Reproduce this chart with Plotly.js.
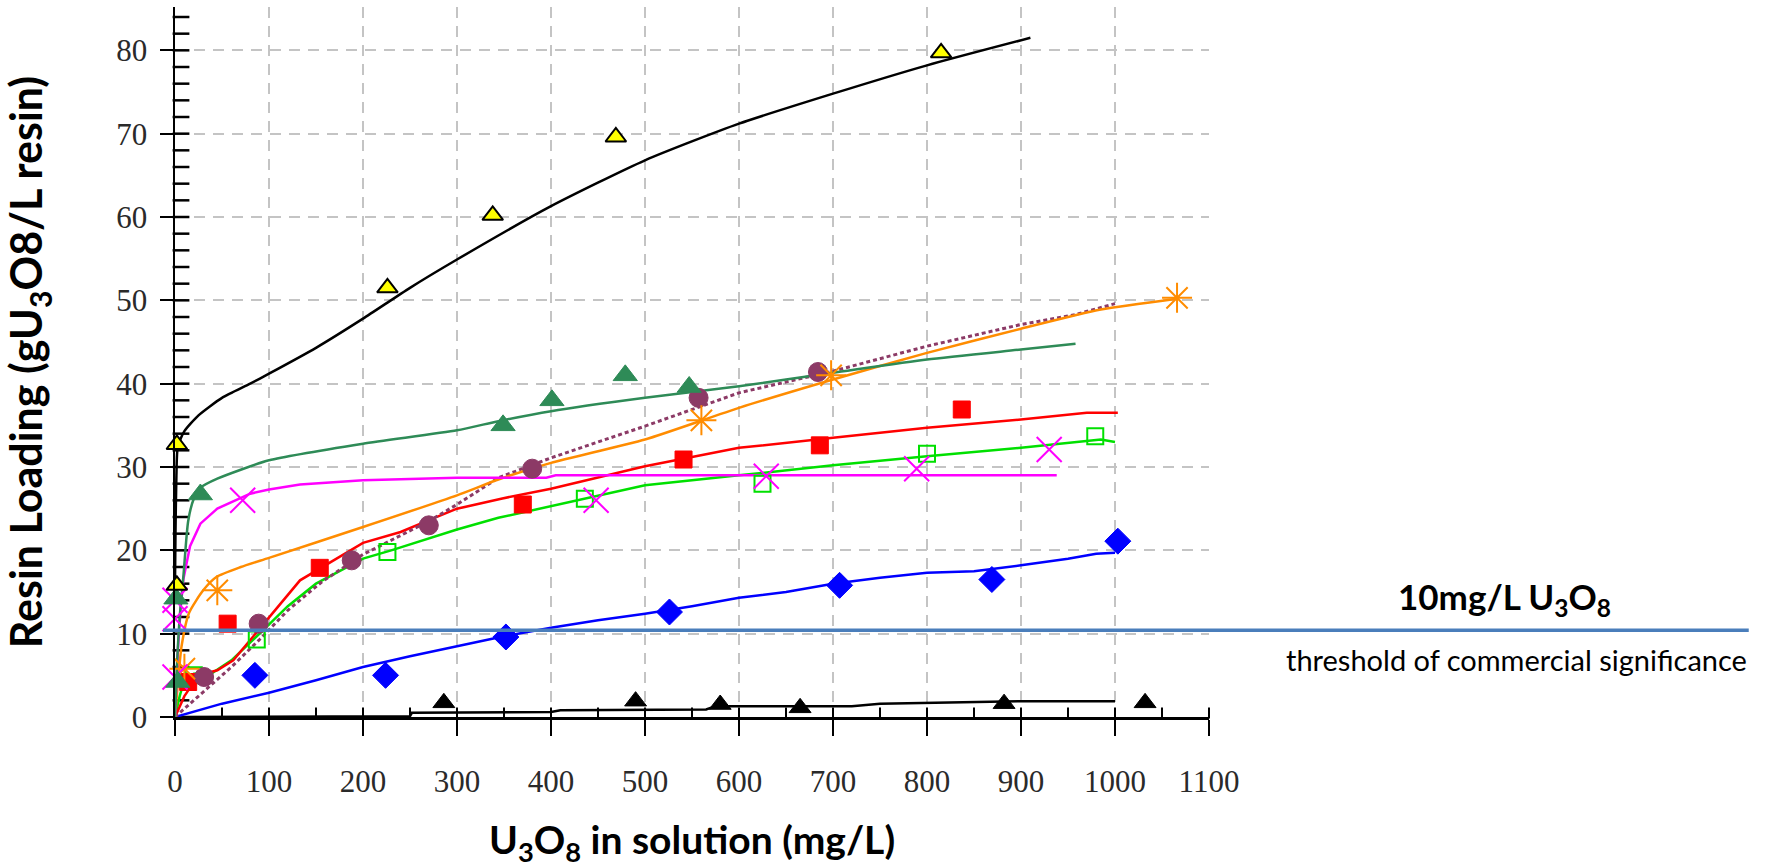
<!DOCTYPE html>
<html>
<head>
<meta charset="utf-8">
<script src="https://cdn.plot.ly/plotly-3.0.1.min.js"></script>
<style>html,body{margin:0;padding:0;background:#fff;}#chart{width:1776px;height:868px;}</style>
</head>
<body>
<div id="chart"></div>
<script>
// ---- data ----
// measured points (markers)
const yellowX = [2, 2, 226, 338, 469, 815];
const yellowY = [15.8, 32.7, 51.5, 60.2, 69.6, 79.7];
const greenTriX = [1, 3, 27, 349, 401, 479, 547];
const greenTriY = [14.2, 4.2, 26.7, 35.0, 38.0, 41.0, 39.6];
const magentaX = [0, 0, 0, 72, 448, 629, 789, 930];
const magentaY = [4.8, 11.8, 14.0, 26.0, 26.0, 28.9, 29.8, 32.1];
const orangeX = [10, 45, 560, 698, 1066];
const orangeY = [5.8, 15.2, 35.6, 41.0, 50.3];
const purpleX = [31, 89, 188, 270, 380, 557, 684];
const purpleY = [4.8, 11.2, 18.8, 23.0, 29.8, 38.3, 41.4];
const redX = [14, 56, 154, 370, 541, 686, 837];
const redY = [4.2, 11.2, 17.9, 25.5, 30.9, 32.6, 36.9];
const limeX = [20, 87, 226, 436, 625, 800, 979];
const limeY = [5.0, 9.3, 19.8, 26.2, 28.0, 31.6, 33.7];
const blueX = [85, 224, 352, 526, 707, 869, 1003];
const blueY = [5.0, 5.0, 9.6, 12.6, 15.8, 16.5, 21.1];
const blackTriX = [286, 490, 580, 665, 882, 1032];
const blackTriY = [1.7, 1.9, 1.5, 1.1, 1.6, 1.7];

// fitted curves
const blackFitX = [0, 0.5, 1.5, 3, 10, 25, 50, 80, 100, 150, 200, 250, 300, 400, 500, 600, 700, 800, 910];
const blackFitY = [16, 22, 29, 32.5, 34.3, 36.2, 38.3, 40.0, 41.2, 44.3, 47.8, 51.5, 54.9, 61.3, 66.8, 71.2, 74.8, 78.2, 81.5];
const greenFitX = [0, 2, 5, 9, 14, 20, 27, 45, 100, 200, 300, 344, 400, 500, 600, 700, 800, 900, 958];
const greenFitY = [0, 6, 12, 17, 23.5, 26.2, 27.5, 28.6, 30.8, 32.8, 34.4, 35.5, 36.7, 38.3, 39.7, 41.3, 42.9, 44.1, 44.8];
const magentaFitX = [0, 3, 6, 9, 16, 27, 45, 80, 100, 133, 200, 300, 395, 405, 600, 800, 938];
const magentaFitY = [0, 8, 13, 16.6, 20.5, 23.2, 25, 26.8, 27.3, 27.9, 28.4, 28.7, 28.7, 29.0, 29.0, 29.0, 29.0];
const orangeFitX = [0, 3, 7, 15, 30, 44, 70, 100, 200, 300, 344, 400, 500, 600, 700, 800, 900, 985, 1066];
const orangeFitY = [0, 4, 8.5, 12.5, 15.2, 16.8, 18.0, 19.1, 22.8, 26.6, 28.5, 30.5, 33.3, 37.1, 40.5, 43.7, 46.6, 48.9, 50.2];
const purpleFitX = [0, 15, 30, 60, 90, 120, 156, 200, 270, 300, 344, 400, 500, 600, 700, 800, 900, 958, 1000];
const purpleFitY = [0, 1.5, 3, 6, 9.3, 12.8, 16.2, 19.5, 23.5, 25.5, 28.7, 31.1, 34.9, 38.9, 41.5, 44.5, 47.1, 48.3, 49.6];
const redFitX = [0, 10, 25, 45, 62, 80, 100, 133, 200, 240, 276, 300, 347, 400, 500, 600, 700, 800, 900, 970, 1003];
const redFitY = [0, 2.5, 5, 5.6, 6.8, 9.2, 12.0, 16.4, 20.9, 22.2, 23.9, 25.0, 26.2, 27.4, 30.1, 32.3, 33.5, 34.7, 35.7, 36.5, 36.5];
const limeFitX = [0, 5, 10, 20, 40, 60, 90, 120, 150, 200, 230, 300, 344, 400, 500, 600, 700, 800, 900, 985, 1000];
const limeFitY = [0, 2.5, 4.5, 5.2, 5.3, 6.8, 10.0, 13.3, 16.0, 19.0, 20.0, 22.5, 23.9, 25.3, 27.8, 29.0, 30.2, 31.3, 32.3, 33.3, 33.0];
const blueFitX = [0, 50, 100, 150, 200, 250, 300, 350, 400, 450, 500, 550, 600, 650, 700, 750, 800, 850, 900, 950, 980, 1000];
const blueFitY = [0, 1.6, 2.9, 4.4, 6.0, 7.3, 8.5, 9.7, 10.7, 11.6, 12.4, 13.3, 14.3, 15.0, 16.0, 16.7, 17.3, 17.5, 18.2, 19.0, 19.6, 19.7];
const blackLowFitX = [0, 250, 252, 400, 410, 565, 575, 720, 750, 800, 900, 1000];
const blackLowFitY = [0, 0.1, 0.5, 0.6, 0.8, 0.9, 1.3, 1.3, 1.6, 1.7, 1.9, 1.9];

const thresholdY = 10.4;
const xRange = [0, 1100];
const yRange = [0, 85.2];
// small inner tick positions (every 50 on x, every 2 on y)
const xMinorTicks = [50, 100, 150, 200, 250, 300, 350, 400, 450, 500, 550, 600, 650, 700, 750, 800, 850, 900, 950, 1000, 1050, 1100];
const yMinorTicks = [2, 4, 6, 8, 10, 12, 14, 16, 18, 20, 22, 24, 26, 28, 30, 32, 34, 36, 38, 40, 42, 44, 46, 48, 50, 52, 54, 56, 58, 60, 62, 64, 66, 68, 70, 72, 74, 76, 78, 80, 82, 84];

// ---- geometry ----
const W = 1776, H = 868;
const M = {l: 175, r: 567, t: 7, b: 151};
const plotW = W - M.l - M.r, plotH = H - M.t - M.b;
const yTickLen = 12, xTickLen = 8;
// offset (in axis units) that puts each inner tick's centre half a tick length inside the axis
const yTickX = (yTickLen / 2) * (xRange[1] - xRange[0]) / plotW;
const xTickY = (xTickLen / 2) * (yRange[1] - yRange[0]) / plotH;

// ---- traces ----
function fit(x, y, color, width, dash, shape) {
  return {x: x, y: y, type: 'scatter', mode: 'lines', cliponaxis: false, hoverinfo: 'skip',
          line: {color: color, width: width, dash: dash || 'solid', shape: shape || 'linear', smoothing: 0.6}};
}
function pts(x, y, symbol, size, color, lineColor, lineWidth) {
  return {x: x, y: y, type: 'scatter', mode: 'markers', cliponaxis: false,
          marker: {symbol: symbol, size: size, color: color,
                   line: {color: lineColor, width: lineWidth}}};
}
const C = {black: '#000000', green: '#2e8b57', magenta: '#ff00ff', orange: '#ff8c00',
           purple: '#8c3a66', red: '#ff0000', lime: '#00e000', blue: '#0000ff', yellow: '#ffff00'};

const data = [
  // inner axis ticks
  {x: yMinorTicks.map(() => yTickX), y: yMinorTicks, type: 'scatter', mode: 'markers', cliponaxis: false, hoverinfo: 'skip',
   marker: {symbol: 'line-ew-open', size: yTickLen, color: '#000', line: {color: '#000', width: 2.5}}},
  {x: xMinorTicks, y: xMinorTicks.map(() => xTickY), type: 'scatter', mode: 'markers', cliponaxis: false, hoverinfo: 'skip',
   marker: {symbol: 'line-ns-open', size: xTickLen, color: '#000', line: {color: '#000', width: 2}}},
  fit(blackLowFitX, blackLowFitY, C.black, 2.5),
  fit(blueFitX, blueFitY, C.blue, 2.5),
  fit(limeFitX, limeFitY, C.lime, 2.5),
  fit(redFitX, redFitY, C.red, 2.5),
  fit(purpleFitX, purpleFitY, C.purple, 3, '4px,3px'),
  fit(orangeFitX, orangeFitY, C.orange, 2.5, null, 'spline'),
  fit(magentaFitX, magentaFitY, C.magenta, 2.5),
  fit(greenFitX, greenFitY, C.green, 2.5, null, 'spline'),
  fit(blackFitX, blackFitY, C.black, 2.5, null, 'spline'),
  pts(blackTriX, blackTriY, 'triangle-up', 19, C.black, C.black, 1),
  pts(blueX, blueY, 'diamond', 20, C.blue, C.blue, 1),
  pts(limeX, limeY, 'square-open', 16, C.lime, C.lime, 2),
  pts(redX, redY, 'square', 17, C.red, C.red, 1),
  pts(purpleX, purpleY, 'circle', 19, C.purple, C.purple, 1),
  pts(orangeX, orangeY, 'asterisk-open', 25, C.orange, C.orange, 2),
  pts(magentaX, magentaY, 'x-thin-open', 25, C.magenta, C.magenta, 2),
  pts(greenTriX, greenTriY, 'triangle-up', 21, C.green, C.green, 1),
  pts(yellowX, yellowY, 'triangle-up', 18, C.yellow, C.black, 2)
];

const tickFont = {family: 'Liberation Serif, Times New Roman, serif', size: 31, color: '#2a2a2a'};

const layout = {
  width: W, height: H,
  paper_bgcolor: '#ffffff', plot_bgcolor: '#ffffff',
  showlegend: false,
  margin: M,
  xaxis: {
    range: xRange, tickmode: 'linear', tick0: 0, dtick: 100,
    showline: true, linecolor: '#000', linewidth: 2.5, zeroline: false,
    ticks: 'outside', ticklen: 16, tickwidth: 2, tickcolor: '#000',
    ticklabelstandoff: 19,
    showgrid: true, gridcolor: '#c4c4c4', gridwidth: 2, griddash: '11px,8px',
    tickfont: tickFont,
    title: {text: '<b>U<sub>3</sub>O<sub>8</sub> in solution (mg/L)</b>',
            font: {family: 'Lato, Open Sans, sans-serif', size: 39, color: '#000'}, standoff: 50}
  },
  yaxis: {
    range: yRange, tickmode: 'linear', tick0: 0, dtick: 10,
    showline: true, linecolor: '#000', linewidth: 2.5, zeroline: false,
    ticks: 'outside', ticklen: 13, tickwidth: 2, tickcolor: '#000',
    ticklabelstandoff: 6,
    showgrid: true, gridcolor: '#c4c4c4', gridwidth: 2, griddash: '11px,8px',
    tickfont: tickFont,
    title: {text: '<b>Resin Loading (gU<sub>3</sub>O8/L resin)</b>',
            font: {family: 'Lato, Open Sans, sans-serif', size: 43, color: '#000'}, standoff: 60}
  },
  shapes: [{
    type: 'line', xref: 'paper', yref: 'y', x0: -0.0116, x1: 1.522, y0: thresholdY, y1: thresholdY,
    line: {color: '#4a7ebb', width: 3.5}
  }],
  annotations: [
    {xref: 'paper', yref: 'y', x: 1.286, y: thresholdY, yanchor: 'bottom', yshift: 6, xanchor: 'center',
     showarrow: false, text: '<b>10mg/L U<sub>3</sub>O<sub>8</sub></b>',
     font: {family: 'Lato, Open Sans, sans-serif', size: 35, color: '#000'}},
    {xref: 'paper', yref: 'y', x: 1.522, y: thresholdY, yanchor: 'top', yshift: -10, xanchor: 'right',
     showarrow: false, text: 'threshold of commercial significance',
     font: {family: 'Lato, Open Sans, sans-serif', size: 29, color: '#000'}}
  ]
};

Plotly.newPlot('chart', data, layout, {staticPlot: true, displayModeBar: false});
</script>
</body>
</html>
